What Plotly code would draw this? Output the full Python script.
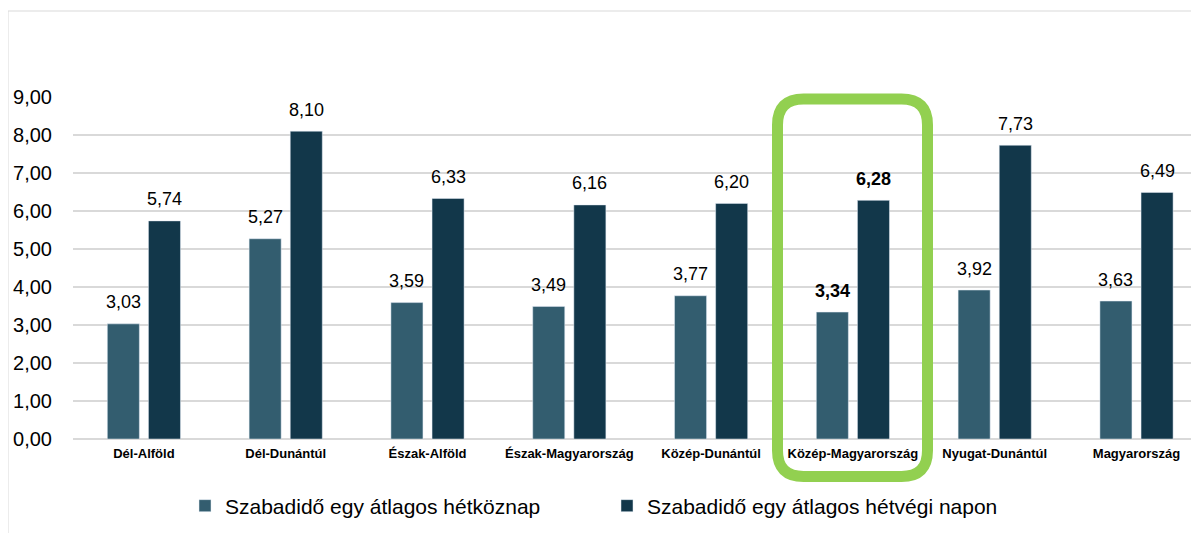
import plotly.graph_objects as go

categories = ["Dél-Alföld", "Dél-Dunántúl", "Észak-Alföld", "Észak-Magyarország",
              "Közép-Dunántúl", "Közép-Magyarország", "Nyugat-Dunántúl", "Magyarország"]
weekday = [3.03, 5.27, 3.59, 3.49, 3.77, 3.34, 3.92, 3.63]
weekend = [5.74, 8.10, 6.33, 6.16, 6.20, 6.28, 7.73, 6.49]
series_names = ["Szabadidő egy átlagos hétköznap", "Szabadidő egy átlagos hétvégi napon"]
highlight = "Közép-Magyarország"
y_ticks = [0, 1, 2, 3, 4, 5, 6, 7, 8, 9]

# page body has an 8px offset; positions below are window pixels
OX, OY = 8, 8
W, H = 1199, 533
PLOT_L, PLOT_T, PLOT_B = 73, 97, 439      # window pixels
L, T = PLOT_L - OX, PLOT_T - OY
B = H - (PLOT_B - OY)
R = 0
PW, PH = W - L - R, H - T - B
CAT_W = 141.8
X_MAX = -0.5 + PW / CAT_W
FONT = "Liberation Sans, Arial, sans-serif"
C_LIGHT = "#335D6F"
C_DARK = "#12374A"

BAR_W = 0.226
OFF = 0.145

def px_x(p):
    return (p - OX - L) / PW

def px_y(p):
    return (PLOT_B - p) / PH

fig = go.Figure()
fig.add_trace(go.Bar(x=categories, y=weekday, name=series_names[0], marker_color=C_LIGHT,
                     width=BAR_W, offset=-OFF - BAR_W / 2))
fig.add_trace(go.Bar(x=categories, y=weekend, name=series_names[1], marker_color=C_DARK,
                     width=BAR_W, offset=OFF - BAR_W / 2))

annotations = []
for i, c in enumerate(categories):
    bold = c == highlight
    for vals, sgn in ((weekday, -1), (weekend, 1)):
        v = vals[i]
        txt = f"{v:.2f}".replace(".", ",")
        if bold:
            txt = f"<b>{txt}</b>"
        annotations.append(dict(x=i + sgn * OFF, y=v, xref="x", yref="y", text=txt,
                                showarrow=False, yanchor="middle", yshift=21.5,
                                font=dict(size=18, color="#000000", family=FONT)))

shapes = []
# outer chart border (top and left)
shapes.append(dict(type="line", xref="paper", yref="paper", x0=px_x(8), x1=px_x(1220),
                   y0=px_y(11), y1=px_y(11), line=dict(color="#D9D9D9", width=1)))
shapes.append(dict(type="line", xref="paper", yref="paper", x0=px_x(8), x1=px_x(8),
                   y0=px_y(11), y1=px_y(560), line=dict(color="#D9D9D9", width=1)))

# green rounded highlight box
x0, x1, y0, y1, r = 777.5, 927.5, 99, 476.5, 26
def P(a, b):
    return f"{px_x(a):.5f},{px_y(b):.5f}"
path = (f"M {P(x0 + r, y0)} L {P(x1 - r, y0)} Q {P(x1, y0)} {P(x1, y0 + r)} "
        f"L {P(x1, y1 - r)} Q {P(x1, y1)} {P(x1 - r, y1)} "
        f"L {P(x0 + r, y1)} Q {P(x0, y1)} {P(x0, y1 - r)} "
        f"L {P(x0, y0 + r)} Q {P(x0, y0)} {P(x0 + r, y0)} Z")
shapes.append(dict(type="path", xref="paper", yref="paper", path=path,
                   line=dict(color="#92D050", width=11)))

fig.update_layout(
    width=W, height=H,
    margin=dict(l=L, r=R, t=T, b=B, autoexpand=False),
    paper_bgcolor="white", plot_bgcolor="white",
    barmode="overlay",
    separators=", ",
    font=dict(family=FONT, color="#000000"),
    xaxis=dict(type="category", range=[-0.5, X_MAX], showgrid=False, showline=False,
               ticks="", tickfont=dict(size=13, family=FONT, color="#000000"),
               tickprefix="<b>", ticksuffix="</b>", ticklabelstandoff=5),
    yaxis=dict(range=[0, 9], tickvals=y_ticks, tickformat=".2f", showgrid=True,
               gridcolor="#D9D9D9", gridwidth=1.5, zeroline=True, zerolinecolor="#D9D9D9",
               zerolinewidth=1.5, showline=False, ticks="",
               tickfont=dict(size=20, family=FONT, color="#000000"), ticklabelstandoff=20),
    legend=dict(orientation="h", x=px_x(185), xanchor="left", y=px_y(506), yanchor="middle",
                font=dict(size=21, family=FONT, color="#000000"), entrywidth=377,
                itemwidth=30, bgcolor="rgba(0,0,0,0)"),
    annotations=annotations,
    shapes=shapes,
)

fig.write_html("out.html")
